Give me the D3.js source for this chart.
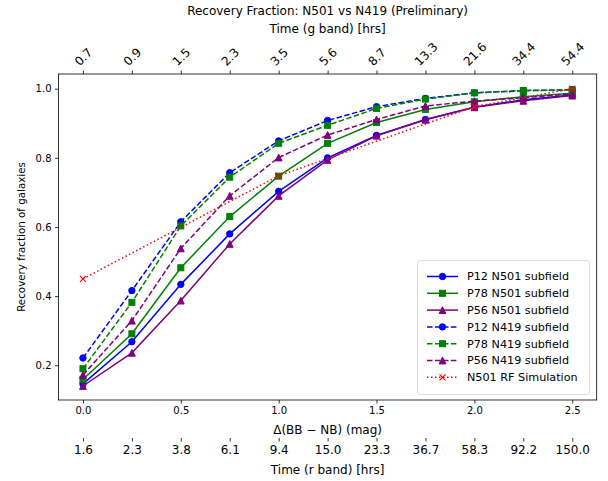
<!DOCTYPE html>
<html>
<head>
<meta charset="utf-8">
<script src="https://cdn.jsdelivr.net/npm/d3@7"></script>
<style>
  body { margin: 0; background: #fff; }
  svg text { font-family: "DejaVu Sans", sans-serif; fill: #000; }
</style>
</head>
<body>
<div id="chart"></div>
<script>
// x positions (Δ mag) shared by all survey series
const deltaMag = [0.0, 0.25, 0.5, 0.75, 1.0, 1.25, 1.5, 1.75, 2.0, 2.25, 2.5];

// secondary axis labels
const timeG = ["0.7", "0.9", "1.5", "2.3", "3.5", "5.6", "8.7", "13.3", "21.6", "34.4", "54.4"];
const timeR = ["1.6", "2.3", "3.8", "6.1", "9.4", "15.0", "23.3", "36.7", "58.3", "92.2", "150.0"];

// recovery fractions
const p12N501 = [0.146, 0.268, 0.434, 0.580, 0.703, 0.800, 0.865, 0.911, 0.946, 0.968, 0.982];
const p78N501 = [0.159, 0.291, 0.482, 0.630, 0.747, 0.842, 0.902, 0.940, 0.962, 0.977, 0.987];
const p56N501 = [0.140, 0.236, 0.387, 0.551, 0.690, 0.794, 0.864, 0.910, 0.946, 0.965, 0.980];
const p12N419 = [0.221, 0.416, 0.615, 0.757, 0.849, 0.908, 0.948, 0.972, 0.988, 0.994, 0.997];
const p78N419 = [0.190, 0.382, 0.603, 0.744, 0.842, 0.894, 0.943, 0.970, 0.988, 0.995, 0.996];
const p56N419 = [0.172, 0.329, 0.538, 0.690, 0.801, 0.866, 0.911, 0.950, 0.964, 0.974, 0.985];

// simulation only has 4 points
const simX = [0.0, 1.0, 2.0, 2.5];
const simY = [0.450, 0.748, 0.948, 1.000];

const yTicks = [0.2, 0.4, 0.6, 0.8, 1.0];
const xTicks = [0.0, 0.5, 1.0, 1.5, 2.0, 2.5];

const series = [
    { name: "P12 N501 subfield", x: deltaMag, y: p12N501, color: "blue", dash: null, marker: "circle" },
    { name: "P78 N501 subfield", x: deltaMag, y: p78N501, color: "green", dash: null, marker: "square" },
    { name: "P56 N501 subfield", x: deltaMag, y: p56N501, color: "purple", dash: null, marker: "triangle" },
    { name: "P12 N419 subfield", x: deltaMag, y: p12N419, color: "blue", dash: "5.55,2.4", marker: "circle" },
    { name: "P78 N419 subfield", x: deltaMag, y: p78N419, color: "green", dash: "5.55,2.4", marker: "square" },
    { name: "P56 N419 subfield", x: deltaMag, y: p56N419, color: "purple", dash: "5.55,2.4", marker: "triangle" },
    { name: "N501 RF Simulation", x: simX, y: simY, color: "red", dash: "1.5,2.5", marker: "x" }
];

const W = 608, H = 481;
const plotL = 58.5, plotR = 596.7, plotT = 74, plotB = 400;

const svg = d3.select("#chart").append("svg")
    .attr("width", W)
    .attr("height", H);

const x = d3.scaleLinear().domain([-0.125, 2.625]).range([plotL, plotR]);
const y = d3.scaleLinear().domain([0.0995, 1.0425]).range([plotB, plotT]);

// draw a marker at (cx, cy)
function drawMarker(g, type, cx, cy, color) {
    if (type === "circle") {
        g.append("circle").attr("cx", cx).attr("cy", cy).attr("r", 3.2)
            .attr("fill", color).attr("stroke", color).attr("stroke-width", 1);
    } else if (type === "square") {
        g.append("rect").attr("x", cx - 3).attr("y", cy - 3).attr("width", 6).attr("height", 6)
            .attr("fill", color).attr("stroke", color).attr("stroke-width", 1);
    } else if (type === "triangle") {
        const s = 3.4;
        g.append("path").attr("d", `M${cx},${cy - s}L${cx + s},${cy + s}L${cx - s},${cy + s}Z`)
            .attr("fill", color).attr("stroke", color).attr("stroke-width", 1);
    } else if (type === "x") {
        const s = 3;
        g.append("path").attr("d", `M${cx - s},${cy - s}L${cx + s},${cy + s}M${cx - s},${cy + s}L${cx + s},${cy - s}`)
            .attr("fill", "none").attr("stroke", color).attr("stroke-width", 1.2);
    }
}

// lines and markers
const plot = svg.append("g");
const line = d3.line().x(d => x(d[0])).y(d => y(d[1]));
series.forEach(s => {
    const pts = s.x.map((v, i) => [v, s.y[i]]);
    plot.append("path")
        .datum(pts)
        .attr("d", line)
        .attr("fill", "none")
        .attr("stroke", s.color)
        .attr("stroke-width", 1.5)
        .attr("stroke-dasharray", s.dash);
    const mg = plot.append("g");
    pts.forEach(p => drawMarker(mg, s.marker, x(p[0]), y(p[1]), s.color));
});

// frame
svg.append("rect")
    .attr("x", plotL).attr("y", plotT)
    .attr("width", plotR - plotL).attr("height", plotB - plotT)
    .attr("fill", "none").attr("stroke", "#000").attr("stroke-width", 0.8);

// bottom axis
const xAxis = svg.append("g")
    .attr("transform", `translate(0,${plotB})`)
    .call(d3.axisBottom(x).tickValues(xTicks).tickFormat(d3.format(".1f")).tickSize(3.5).tickPadding(3.5).tickSizeOuter(0));
xAxis.select(".domain").remove();
xAxis.selectAll(".tick text").style("font-size", "10px");

// left axis
const yAxis = svg.append("g")
    .attr("transform", `translate(${plotL},0)`)
    .call(d3.axisLeft(y).tickValues(yTicks).tickFormat(d3.format(".1f")).tickSize(3.5).tickPadding(3.5).tickSizeOuter(0));
yAxis.select(".domain").remove();
yAxis.selectAll(".tick text").style("font-size", "10px");

// second bottom axis: r band time, no spine
const rAxis = svg.append("g")
    .attr("transform", `translate(0,438)`)
    .call(d3.axisBottom(x).tickValues(deltaMag).tickFormat((d, i) => timeR[i]).tickSize(3.5).tickPadding(3.5).tickSizeOuter(0));
rAxis.select(".domain").remove();
rAxis.selectAll(".tick text").style("font-size", "12px");

// top axis: g band time, rotated labels
const gAxis = svg.append("g")
    .attr("transform", `translate(0,${plotT})`)
    .call(d3.axisTop(x).tickValues(deltaMag).tickFormat((d, i) => timeG[i]).tickSize(3.5).tickPadding(3.5).tickSizeOuter(0));
gAxis.select(".domain").remove();
gAxis.selectAll(".tick text").style("font-size", "12px").each(function() {
    const t = d3.select(this);
    const w = this.getComputedTextLength();
    const bh = (w + 9.5) * Math.SQRT1_2;
    t.attr("y", -7 - bh / 2)
        .attr("dy", "0.35em")
        .attr("text-anchor", "middle")
        .attr("transform", `rotate(-45,0,${-7 - bh / 2})`);
});

svg.selectAll(".tick line").attr("stroke", "#000").attr("stroke-width", 0.8);

// labels
svg.append("text").attr("x", (plotL + plotR) / 2).attr("y", 14.5)
    .attr("text-anchor", "middle").style("font-size", "12px")
    .text("Recovery Fraction: N501 vs N419 (Preliminary)");

svg.append("text").attr("x", (plotL + plotR) / 2).attr("y", 32.5)
    .attr("text-anchor", "middle").style("font-size", "12px")
    .text("Time (g band) [hrs]");

svg.append("text").attr("x", (plotL + plotR) / 2).attr("y", 433.5)
    .attr("text-anchor", "middle").style("font-size", "12px")
    .text("Δ(BB − NB) (mag)");

svg.append("text").attr("x", (plotL + plotR) / 2).attr("y", 473.5)
    .attr("text-anchor", "middle").style("font-size", "12px")
    .text("Time (r band) [hrs]");

svg.append("text")
    .attr("transform", `translate(25,${(plotT + plotB) / 2}) rotate(-90)`)
    .attr("text-anchor", "middle").style("font-size", "10.3px")
    .text("Recovery fraction of galaxies");

// legend
const lg = svg.append("g");
lg.append("rect")
    .attr("x", 417.5).attr("y", 260.5).attr("width", 172).attr("height", 134)
    .attr("rx", 2.5)
    .attr("fill", "#fff").attr("fill-opacity", 0.8)
    .attr("stroke", "#d5d5d5").attr("stroke-width", 0.8);
series.forEach((s, i) => {
    const ly = 276.5 + i * 16.8;
    lg.append("line")
        .attr("x1", 427).attr("x2", 458).attr("y1", ly).attr("y2", ly)
        .attr("stroke", s.color).attr("stroke-width", 1.5)
        .attr("stroke-dasharray", s.dash);
    drawMarker(lg, s.marker, 442.5, ly, s.color);
    lg.append("text").attr("x", 467).attr("y", ly).attr("dy", "0.35em")
        .style("font-size", "11.2px").text(s.name);
});
</script>
</body>
</html>
